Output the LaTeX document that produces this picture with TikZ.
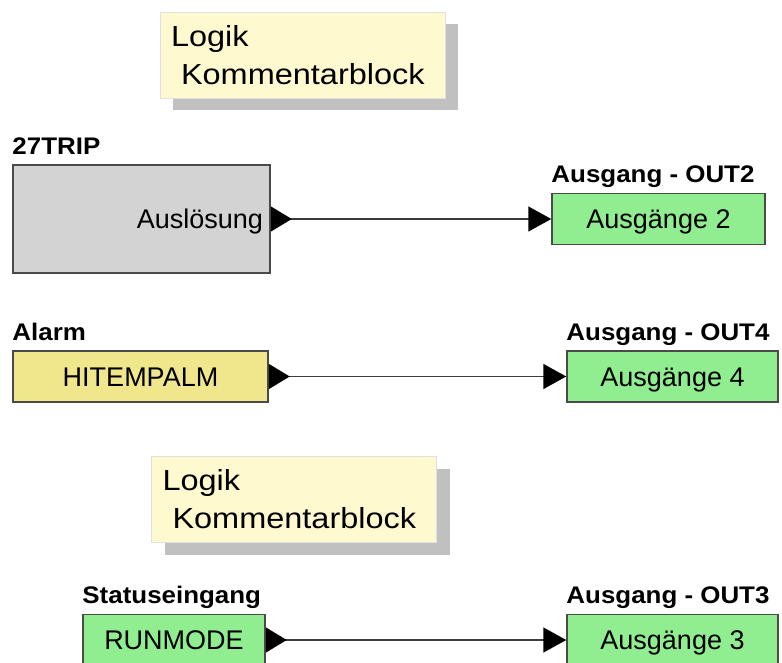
\documentclass[tikz,border=0pt]{standalone}
\usepackage{fontspec}
\setmainfont{Liberation Sans}
\newfontfamily\tagfont[FakeStretch=1.08]{Liberation Sans}
\newfontfamily\notefont[FakeStretch=1.12]{Liberation Sans}
\usepackage{xcolor}
\usepackage{tikz}
\usetikzlibrary{arrows.meta, positioning, shadows}

\definecolor{notefill}{HTML}{FFF9D0}
\definecolor{shadowgray}{HTML}{C0C0C0}
\definecolor{blockgray}{HTML}{D3D3D3}
\definecolor{alarmfill}{HTML}{F0E68C}
\definecolor{outgreen}{HTML}{90EE90}
\definecolor{edgegray}{HTML}{4A4A4A}
\definecolor{wiregray}{HTML}{3C3C3C}

\begin{document}
\begin{tikzpicture}[
    x=1pt, y=-1pt,
    note/.style={fill=notefill, draw=white!88!black, line width=0.6pt, text width=263pt, align=left, inner xsep=11pt, minimum height=86pt, font=\notefont\fontsize{29}{38}\selectfont,
      drop shadow={shadow xshift=13pt, shadow yshift=-12pt, fill=shadowgray, opacity=1}},
    blk/.style={draw=edgegray, line width=1.5pt, minimum height=51pt, text height=19.3pt, text depth=0pt, font=\fontsize{27}{32}\selectfont},
    fblock/.style={blk, fill=blockgray, minimum height=108pt, text width=243pt, align=right, inner xsep=7pt},
    alarmbox/.style={blk, fill=alarmfill},
    outbox/.style={blk, fill=outgreen},
    tag/.style={anchor=base west, inner sep=0pt, font=\tagfont\bfseries\fontsize{24}{28}\selectfont},
    arr/.style={draw=wiregray, line width=1.5pt, {Triangle[reversed, length=21pt, width=25pt, color=black]}-{Triangle[length=23pt, width=25pt, color=black]}},
]
\useasboundingbox (0,0) rectangle (782,663);

% Comment blocks
\node[note] (note1) at (302.5, 55.5) {Logik\\\hspace*{10pt}Kommentarblock};
\node[note] (note2) at (294, 499.5) {Logik\\\hspace*{10pt}Kommentarblock};

% Row 1
\node[fblock] (trip) at (141.5, 219) {Auslösung};
\node[tag] (tripname) at ([yshift=10pt]trip.north west) {27TRIP};
\node[outbox, minimum width=213pt] (out2) at (658.5, 219) {Ausgänge 2};
\node[tag] (out2name) at ([yshift=10pt]out2.north west) {Ausgang - OUT2};
\draw[arr] (trip.east) -- (out2.west);

% Row 2
\node[alarmbox, minimum width=255pt] (alarm) at (140.5, 376.5) {HITEMPALM};
\node[tag] (alarmname) at ([yshift=10pt]alarm.north west) {Alarm};
\node[outbox, minimum width=211pt] (out4) at (672.5, 376.5) {Ausgänge 4};
\node[tag] (out4name) at ([yshift=10pt]out4.north west) {Ausgang - OUT4};
\draw[arr] (alarm.east) -- (out4.west);

% Row 3
\node[outbox, minimum width=182pt] (runmode) at (174, 640) {RUNMODE};
\node[tag] (runmodename) at ([yshift=10pt]runmode.north west) {Statuseingang};
\node[outbox, minimum width=211pt] (out3) at (672.5, 640) {Ausgänge 3};
\node[tag] (out3name) at ([yshift=10pt]out3.north west) {Ausgang - OUT3};
\draw[arr] (runmode.east) -- (out3.west);

\end{tikzpicture}
\end{document}
